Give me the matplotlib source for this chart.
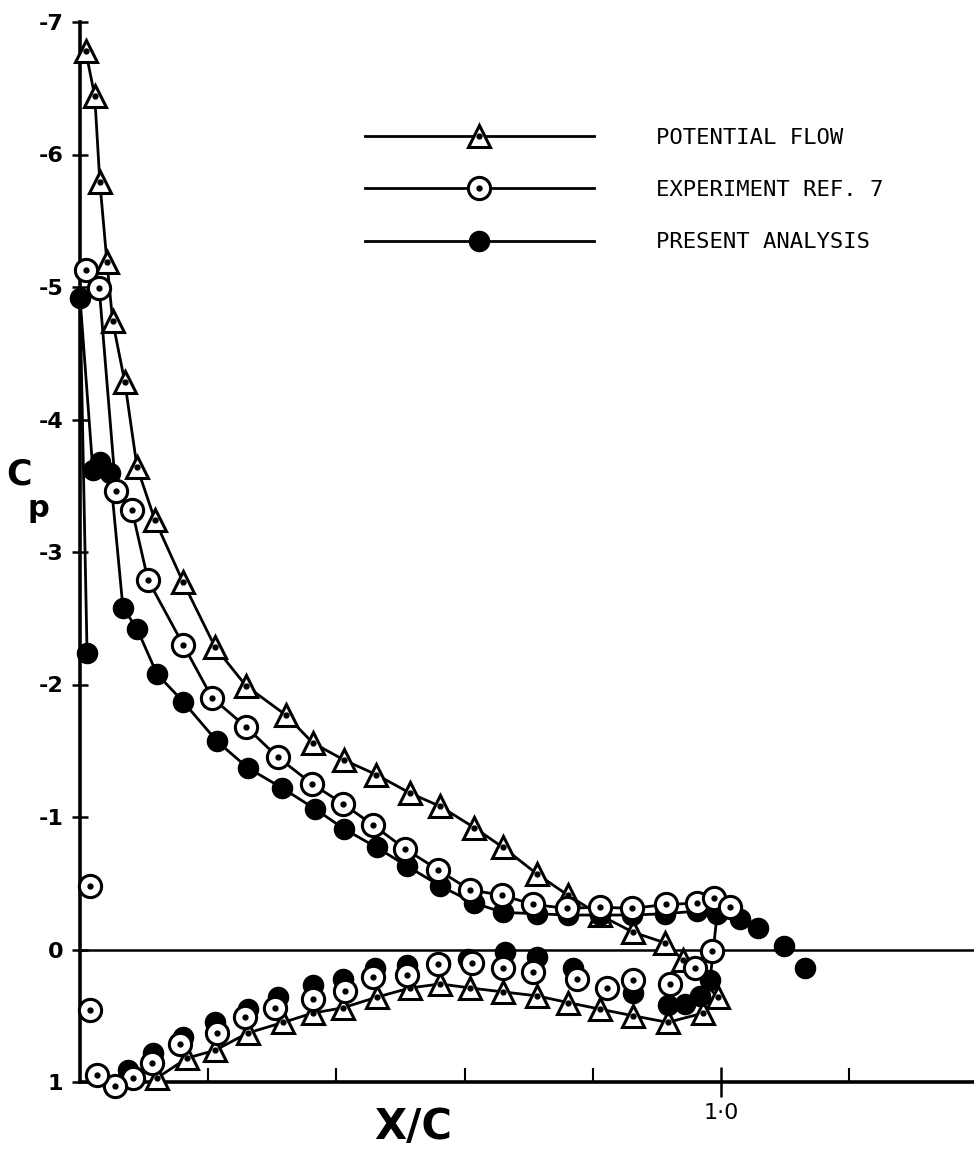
import numpy as np
import matplotlib.pyplot as plt
from matplotlib.legend_handler import HandlerTuple

# Potential flow (triangles): upper surface LE -> TE, then lower surface TE -> LE
pot_upper_x = [0.009, 0.023, 0.031, 0.042, 0.051, 0.070, 0.089, 0.117, 0.161, 0.211, 0.259, 0.321, 0.363,
               0.412, 0.462, 0.515, 0.562, 0.615, 0.660, 0.713, 0.761, 0.811, 0.863, 0.913, 0.941, 0.995]
pot_upper_cp = [-6.78, -6.44, -5.79, -5.19, -4.74, -4.28, -3.64, -3.24, -2.77, -2.28, -1.99, -1.77, -1.56,
                -1.43, -1.32, -1.18, -1.08, -0.92, -0.77, -0.57, -0.41, -0.26, -0.13, -0.05, 0.08, 0.36]
pot_lower_x = [0.972, 0.917, 0.863, 0.811, 0.761, 0.713, 0.660, 0.608, 0.562, 0.515, 0.463, 0.410, 0.363,
               0.317, 0.262, 0.211, 0.167, 0.120]
pot_lower_cp = [0.48, 0.55, 0.50, 0.45, 0.40, 0.35, 0.32, 0.29, 0.26, 0.29, 0.36, 0.44, 0.48,
                0.55, 0.63, 0.76, 0.82, 0.97]

# Experiment ref. 7 (open circles)
exp_upper_x = [0.009, 0.030, 0.056, 0.081, 0.106, 0.161, 0.206, 0.259, 0.309, 0.362, 0.410, 0.457, 0.507,
               0.559, 0.608, 0.658, 0.707, 0.760, 0.811, 0.861, 0.914, 0.963, 0.989, 1.014]
exp_upper_cp = [-5.13, -4.99, -3.46, -3.32, -2.79, -2.30, -1.90, -1.68, -1.45, -1.25, -1.10, -0.94, -0.76,
                -0.60, -0.45, -0.41, -0.34, -0.31, -0.32, -0.31, -0.34, -0.35, -0.39, -0.32]
exp_lower_x = [0.986, 0.959, 0.920, 0.863, 0.822, 0.775, 0.707, 0.660, 0.612, 0.559, 0.510, 0.457, 0.413,
               0.363, 0.304, 0.257, 0.214, 0.156, 0.112, 0.083, 0.055, 0.027, 0.016, 0.016]
exp_lower_cp = [0.01, 0.14, 0.26, 0.23, 0.29, 0.22, 0.17, 0.14, 0.10, 0.11, 0.19, 0.21, 0.31,
                0.37, 0.44, 0.51, 0.63, 0.71, 0.86, 0.97, 1.03, 0.95, 0.46, -0.48]

# Present analysis (filled circles)
pres_upper_x = [0.011, 0.000, 0.020, 0.031, 0.047, 0.067, 0.089, 0.120, 0.161, 0.214, 0.262, 0.315, 0.367,
                0.412, 0.463, 0.510, 0.562, 0.615, 0.660, 0.713, 0.761, 0.811, 0.861, 0.913, 0.963, 0.994]
pres_upper_cp = [-2.24, -4.92, -3.62, -3.68, -3.60, -2.58, -2.42, -2.08, -1.87, -1.57, -1.37, -1.22, -1.06,
                 -0.91, -0.77, -0.63, -0.48, -0.35, -0.28, -0.27, -0.26, -0.26, -0.26, -0.27, -0.29, -0.27]
pres_lower_x = [0.983, 0.967, 0.944, 0.917, 0.863, 0.769, 0.713, 0.663, 0.605, 0.562, 0.510, 0.460, 0.410,
                0.363, 0.309, 0.262, 0.211, 0.161, 0.114, 0.075]
pres_lower_cp = [0.23, 0.35, 0.41, 0.42, 0.33, 0.14, 0.06, 0.02, 0.07, 0.10, 0.12, 0.14, 0.22,
                 0.27, 0.36, 0.45, 0.55, 0.66, 0.78, 0.91]
pres_wake_x = [1.030, 1.058, 1.098, 1.131]
pres_wake_cp = [-0.23, -0.16, -0.03, 0.14]

y_ticks = [-7, -6, -5, -4, -3, -2, -1, 0, 1]
y_labels = ['-7', '-6', '-5', '-4', '-3', '-2', '-1', '0', '1']
x_major = [1.0]
x_major_labels = ['1·0']
x_minor = [0.2, 0.4, 0.6, 0.8, 1.2]

labels = ['POTENTIAL FLOW', 'EXPERIMENT REF. 7', 'PRESENT ANALYSIS']

W, H = 974, 1149
fig = plt.figure(figsize=(W / 100, H / 100), dpi=100)
ax = fig.add_axes([80 / W, 1 - 1082 / H, 1 - 80 / W, (1082 - 22) / H])

lw = 2.0
mew = 2.2

# potential flow
pot_x = pot_upper_x + pot_lower_x
pot_cp = pot_upper_cp + pot_lower_cp
pot_line, = ax.plot(pot_x, pot_cp, color='black', lw=lw, marker='^', ms=16, mfc='white',
                    mec='black', mew=mew, zorder=3, clip_on=False)
pot_dot, = ax.plot(pot_x, pot_cp, ls='none', marker='o', ms=3.5, color='black', zorder=3.1,
                   clip_on=False)

# present analysis
pres_line, = ax.plot(pres_upper_x, pres_upper_cp, color='black', lw=lw, marker='o', ms=14.5,
                     mfc='black', mec='black', zorder=4, clip_on=False)
ax.plot(pres_upper_x[-1:] + pres_lower_x[:4], pres_upper_cp[-1:] + pres_lower_cp[:4],
        color='black', lw=lw, zorder=4)
ax.plot(pres_lower_x, pres_lower_cp, ls='none', marker='o', ms=14.5, color='black', zorder=4,
        clip_on=False)
ax.plot(pres_wake_x, pres_wake_cp, ls='none', marker='o', ms=14.5, color='black', zorder=4,
        clip_on=False)

# experiment
exp_line, = ax.plot(exp_upper_x, exp_upper_cp, color='black', lw=lw, marker='o', ms=16,
                    mfc='white', mec='black', mew=mew, zorder=5, clip_on=False)
exp_dot, = ax.plot(exp_upper_x, exp_upper_cp, ls='none', marker='o', ms=3.5, color='black',
                   zorder=5.1, clip_on=False)
ax.plot(exp_lower_x, exp_lower_cp, ls='none', marker='o', ms=16, mfc='white', mec='black',
        mew=mew, zorder=5, clip_on=False)
ax.plot(exp_lower_x, exp_lower_cp, ls='none', marker='o', ms=3.5, color='black', zorder=5.1,
        clip_on=False)

# zero line
ax.axhline(0, color='black', lw=1.8, zorder=2)

ax.set_xlim(0, (W - 80) / 641)
ax.set_ylim(1, -7)

for side in ['top', 'right']:
    ax.spines[side].set_visible(False)
for side in ['left', 'bottom']:
    ax.spines[side].set_linewidth(2.6)

ax.set_yticks(y_ticks)
ax.set_yticklabels(y_labels, fontsize=16, fontweight='bold')
ax.tick_params(axis='y', direction='inout', length=12, width=1.8, pad=6)

ax.set_xticks(x_major)
ax.set_xticklabels(x_major_labels, fontsize=16)
ax.set_xticks(x_minor, minor=True)
ax.tick_params(axis='x', which='major', direction='inout', length=22, width=1.8, pad=4)
ax.tick_params(axis='x', which='minor', direction='in', length=10, width=1.5)

# axis titles
fig.text(413 / W, 1 - 1127 / H, 'X/C', family='Liberation Sans Narrow', fontweight='bold',
         fontsize=30, ha='center', va='center')
fig.text(19 / W, 1 - 474 / H, 'C', family='Liberation Sans Narrow', fontweight='bold',
         fontsize=25, ha='center', va='center')
fig.text(38 / W, 1 - 508 / H, 'p', family='Liberation Sans Narrow', fontweight='bold',
         fontsize=22, ha='center', va='center')

# legend
leg = ax.legend([(pot_line, pot_dot), (exp_line, exp_dot), pres_line], labels,
                handler_map={tuple: HandlerTuple(ndivide=1)}, numpoints=1,
                loc='upper left', bbox_to_anchor=(365 / W, 1 - 128 / H),
                bbox_transform=fig.transFigure, frameon=False, borderpad=0, borderaxespad=0,
                handlelength=10.3, handletextpad=2.8, labelspacing=1.45,
                prop={'family': 'DejaVu Sans Mono', 'size': 16})

fig.savefig('out.png', dpi=100)
